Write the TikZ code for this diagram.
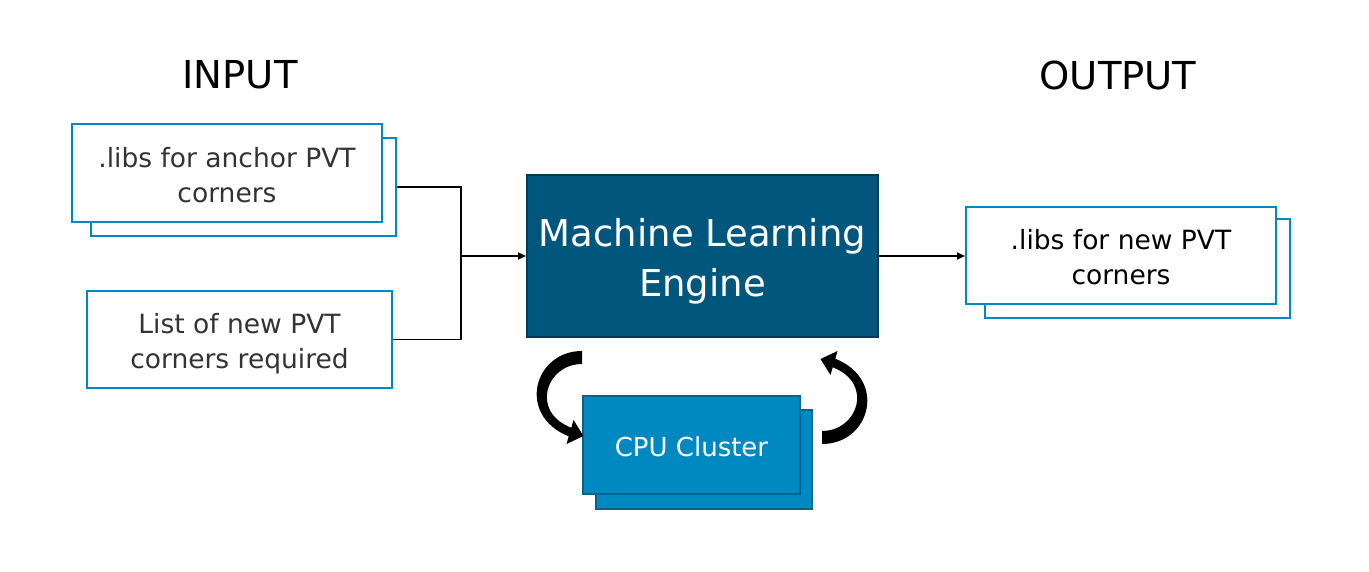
\documentclass[tikz,border=0pt]{standalone}
\usepackage{fontspec}
\setmainfont{DejaVu Sans}
\usetikzlibrary{arrows.meta}
\definecolor{lblue}{RGB}{0,136,192}
\definecolor{cpuborder}{RGB}{0,100,145}
\definecolor{mlfill}{RGB}{0,86,124}
\definecolor{mlborder}{RGB}{0,60,90}
\definecolor{intext}{RGB}{51,51,51}
\tikzset{
  wbox/.style={draw=lblue, line width=2pt, fill=white, inner sep=0pt},
  wtext/.style={inner sep=0pt, align=center, font=\fontsize{26.5}{35}\selectfont},
  cpubox/.style={draw=cpuborder, line width=2pt, fill=lblue, inner sep=0pt, align=center,
    text=white, font=\fontsize{26}{34}\selectfont},
  title/.style={font=\fontsize{38.5}{46}\selectfont, text=black},
  conn/.style={line width=1.8pt, draw=black},
  connarrow/.style={conn, -{Triangle[length=8pt,width=7pt]}},
  curvearrow/.style={fill=black, draw=none}
}
\begin{document}
\begin{tikzpicture}[x=1pt,y=-1pt]
\useasboundingbox (0,0) rectangle (1369,572);
% titles
\node[title] (tin) at (240,75) {INPUT};
\node[title] (tout) at (1118,75) {OUTPUT};
% input boxes
\node[wbox, minimum width=305pt, minimum height=98pt] (b1b) at (243.5,187) {};
\node[wbox, minimum width=310pt, minimum height=98pt] (b1) at (227,173) {};
\node[wtext, text=intext] (b1t) at ([yshift=-2.5pt]b1.center) {.libs for anchor PVT\\corners};
\node[wbox, minimum width=305pt, minimum height=97pt] (b2) at (239.5,339.5) {};
\node[wtext, text=intext] (b2t) at ([yshift=-4pt]b2.center) {List of new PVT\\corners required};
% ML engine
\node[draw=mlborder, line width=2pt, fill=mlfill, inner sep=0pt,
  minimum width=351pt, minimum height=162pt] (ml) at (702.5,256) {};
\node[inner sep=0pt, align=center, text=white, font=\fontsize{37}{50}\selectfont] (mlt)
  at ([yshift=-5pt]ml.center) {Machine Learning\\Engine};
% output boxes
\node[wbox, minimum width=305pt, minimum height=99pt] (ob) at (1137.5,268.5) {};
\node[wbox, minimum width=310pt, minimum height=97pt] (of) at (1121,255.5) {};
\node[wtext, text=black] (oft) at ([yshift=-2pt]of.center) {.libs for new PVT\\corners};
% CPU cluster
\node[cpubox, minimum width=216pt, minimum height=99pt] (cb) at (704,459.5) {};
\node[cpubox, minimum width=217pt, minimum height=98pt] (cf) at (691.5,445) {};
\node[inner sep=0pt, text=white, font=\fontsize{26}{34}\selectfont] (cft) at ([yshift=-1.5pt]cf.center) {CPU Cluster};
% connectors
\coordinate (j) at (461,256);
\draw[conn] (b1b.east) -| (j);
\draw[conn] (b2.east) -| (j);
\draw[connarrow] (j) -- (ml.west);
\draw[connarrow] (ml.east) -- (ml.east -| of.west);
% curved arrows (ML engine <-> CPU cluster)
\fill[curvearrow] (582,351) .. controls (534,351) and (516,415) .. (568.7,436.3)
  -- (566.5,444) -- (583.5,436) -- (573.5,420) -- (571.3,427.7)
  .. controls (530,412) and (546,364) .. (582,364) -- cycle;
\fill[curvearrow, rotate around={180:(702,397.5)}] (582,351) .. controls (534,351) and (516,415) .. (568.7,436.3)
  -- (566.5,444) -- (583.5,436) -- (573.5,420) -- (571.3,427.7)
  .. controls (530,412) and (546,364) .. (582,364) -- cycle;
\end{tikzpicture}
\end{document}
